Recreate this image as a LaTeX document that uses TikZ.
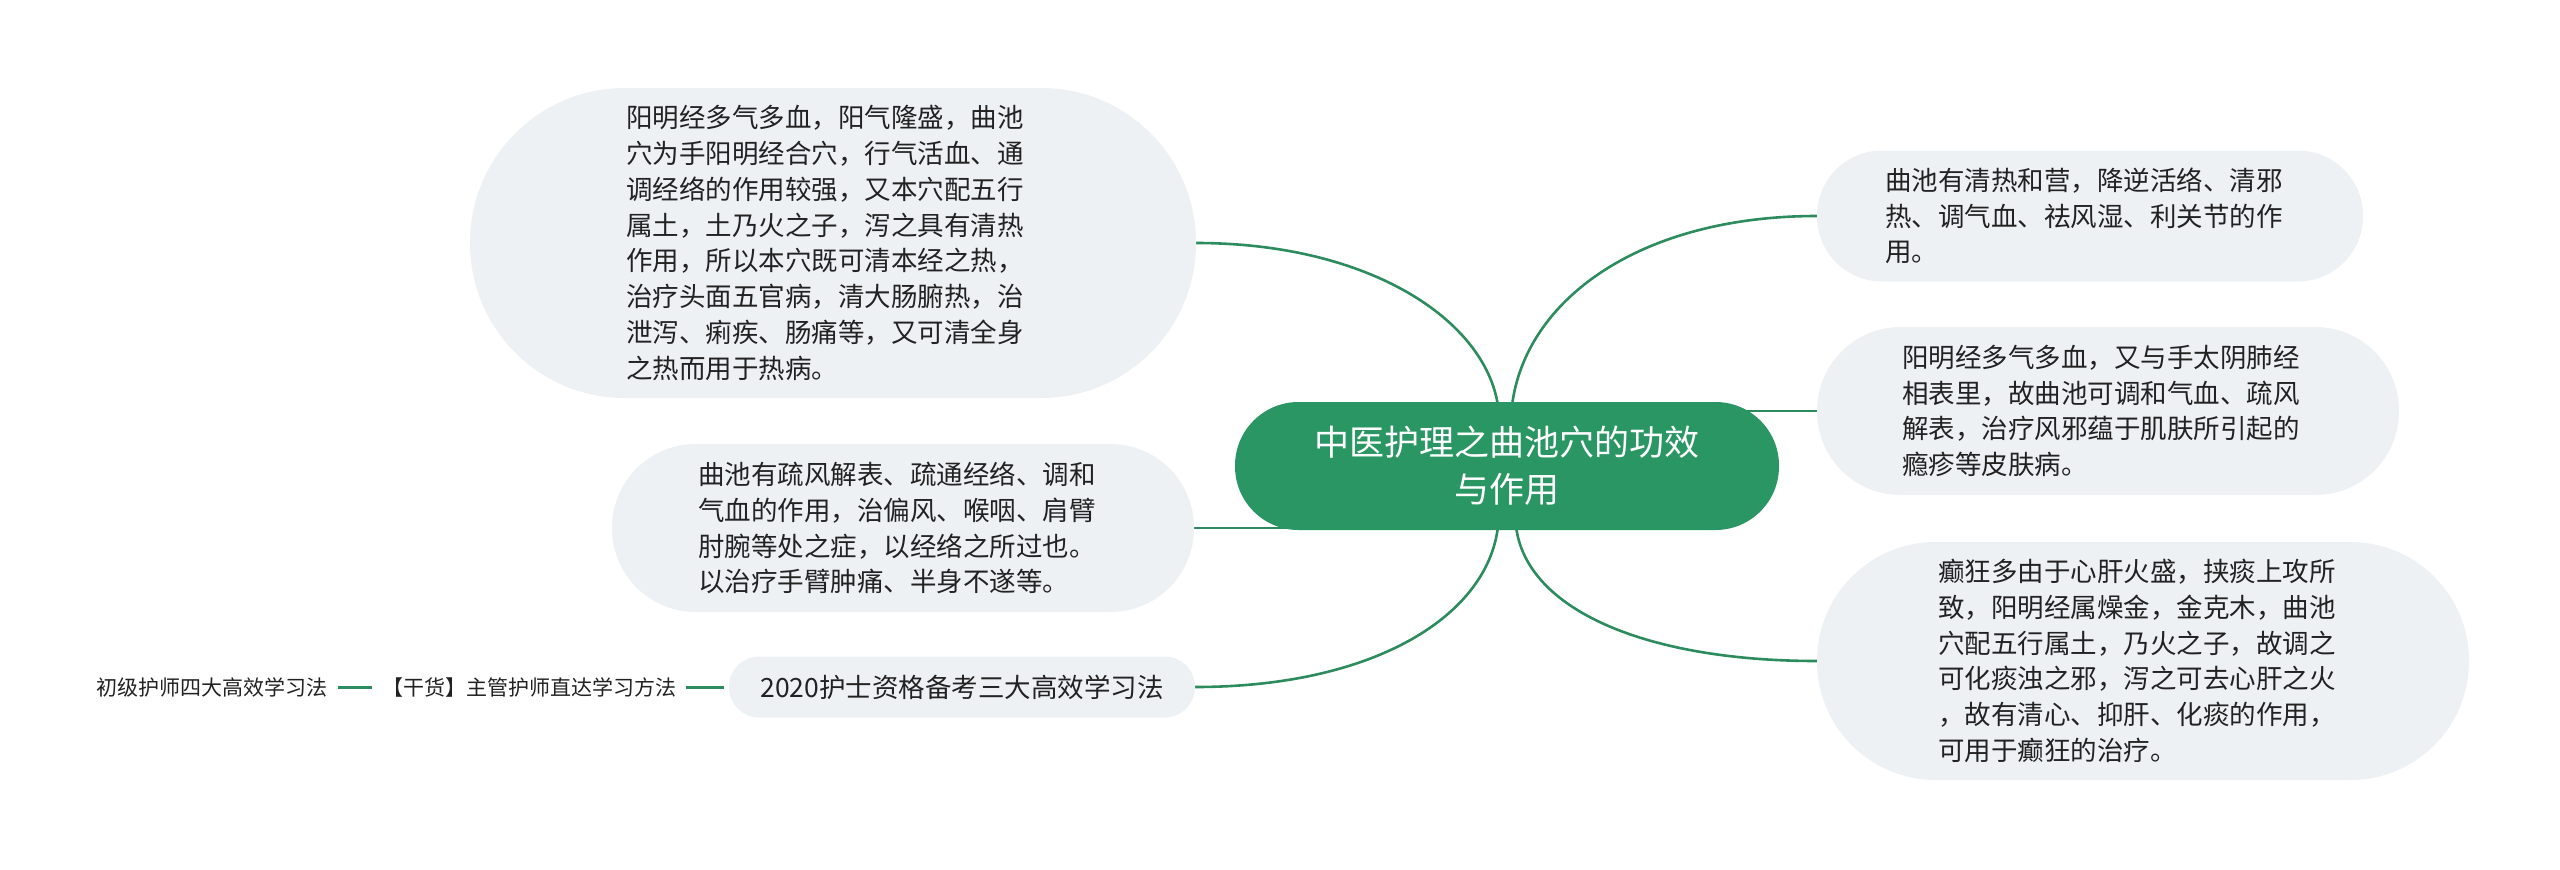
\documentclass[tikz,border=0pt]{standalone}
\usepackage{fontspec}
\setmainfont{Noto Sans CJK SC}
\usetikzlibrary{calc}
\definecolor{leaffill}{HTML}{EEF1F4}
\definecolor{rootfill}{HTML}{2A9664}
\definecolor{linecol}{HTML}{2C8C5E}
\definecolor{txt}{HTML}{222222}
\pgfdeclarelayer{background}
\pgfsetlayers{background,main}
\begin{document}
\begin{tikzpicture}[x=1pt,y=-1pt,
  leaf/.style={fill=leaffill,draw=none,inner sep=0pt,text=txt,align=left,
    text width=410pt,font=\fontsize{26.5}{35.8}\selectfont},
  rootnode/.style={fill=rootfill,draw=none,inner sep=0pt,text=white,align=center,
    minimum width=544pt,minimum height=128pt,rounded corners=63.5pt,
    font=\fontsize{35}{47}\selectfont},
  plain/.style={inner xsep=10pt,inner ysep=4pt,text=txt,font=\fontsize{21}{26}\selectfont},
  conn/.style={draw=linecol,line width=2.6pt}]
\useasboundingbox (0,0) rectangle (2560,870);

\node[rootnode] (root) at (1507,466) {中医护理之曲池穴的功效\\与作用};

\node[leaf,minimum width=726pt,minimum height=310pt,rounded corners=154.5pt,text width=414pt] (tl) at (833,243)
 {阳明经多气多血，阳气隆盛，曲池\\穴为手阳明经合穴，行气活血、通\\调经络的作用较强，又本穴配五行\\属土，土乃火之子，泻之具有清热\\作用，所以本穴既可清本经之热，\\治疗头面五官病，清大肠腑热，治\\泄泻、痢疾、肠痛等，又可清全身\\之热而用于热病。};

\node[leaf,minimum width=582pt,minimum height=168pt,rounded corners=83.5pt] (ml) at (903,528)
 {曲池有疏风解表、疏通经络、调和\\气血的作用，治偏风、喉咽、肩臂\\肘腕等处之症，以经络之所过也。\\以治疗手臂肿痛、半身不遂等。};

\node[fill=leaffill,draw=none,inner sep=0pt,text=txt,minimum width=466pt,minimum height=61pt,rounded corners=30pt,
  font=\fontsize{26.5}{32}\selectfont] (n2020) at (962,687) {2020护士资格备考三大高效学习法};

\node[plain] (s1) at (529,687) {【干货】主管护师直达学习方法};
\node[plain] (s0) at (212,687) {初级护师四大高效学习法};

\node[leaf,minimum width=546pt,minimum height=131pt,rounded corners=65pt] (tr) at (2090,216)
 {曲池有清热和营，降逆活络、清邪\\热、调气血、祛风湿、利关节的作\\用。};

\node[leaf,minimum width=582pt,minimum height=168pt,rounded corners=83.5pt,text width=412pt] (mr) at (2108,411)
 {阳明经多气多血，又与手太阴肺经\\相表里，故曲池可调和气血、疏风\\解表，治疗风邪蕴于肌肤所引起的\\瘾疹等皮肤病。};

\node[leaf,minimum width=652pt,minimum height=238pt,rounded corners=118.5pt] (br) at (2143,661)
 {癫狂多由于心肝火盛，挟痰上攻所\\致，阳明经属燥金，金克木，曲池\\穴配五行属土，乃火之子，故调之\\可化痰浊之邪，泻之可去心肝之火\\，故有清心、抑肝、化痰的作用，\\可用于癫狂的治疗。};

\begin{pgfonlayer}{background}
\draw[conn] ($(root.north)+(-9,4)$) .. controls +(-13,-86) and +(173,0) .. (tl.east);
\draw[conn] ($(root.north)+(5,4)$) .. controls +(13,-106) and +(-177,0) .. (tr.west);
\draw[conn] (mr.west) -- (mr.west -| root.center);
\draw[conn] ($(root.south)+(9,-4)$) .. controls +(10,84) and +(-170,0) .. (br.west);
\draw[conn] (ml.east) -- (ml.east -| root.center);
\draw[conn] ($(root.south)+(-9,-4)$) .. controls +(-10,89) and +(180,0) .. (n2020.east);
\end{pgfonlayer}
\draw[conn,line width=3pt] (s0.east) -- (s1.west);
\draw[conn,line width=3pt,shorten >=5pt] (s1.east) -- (n2020.west);
\end{tikzpicture}
\end{document}
